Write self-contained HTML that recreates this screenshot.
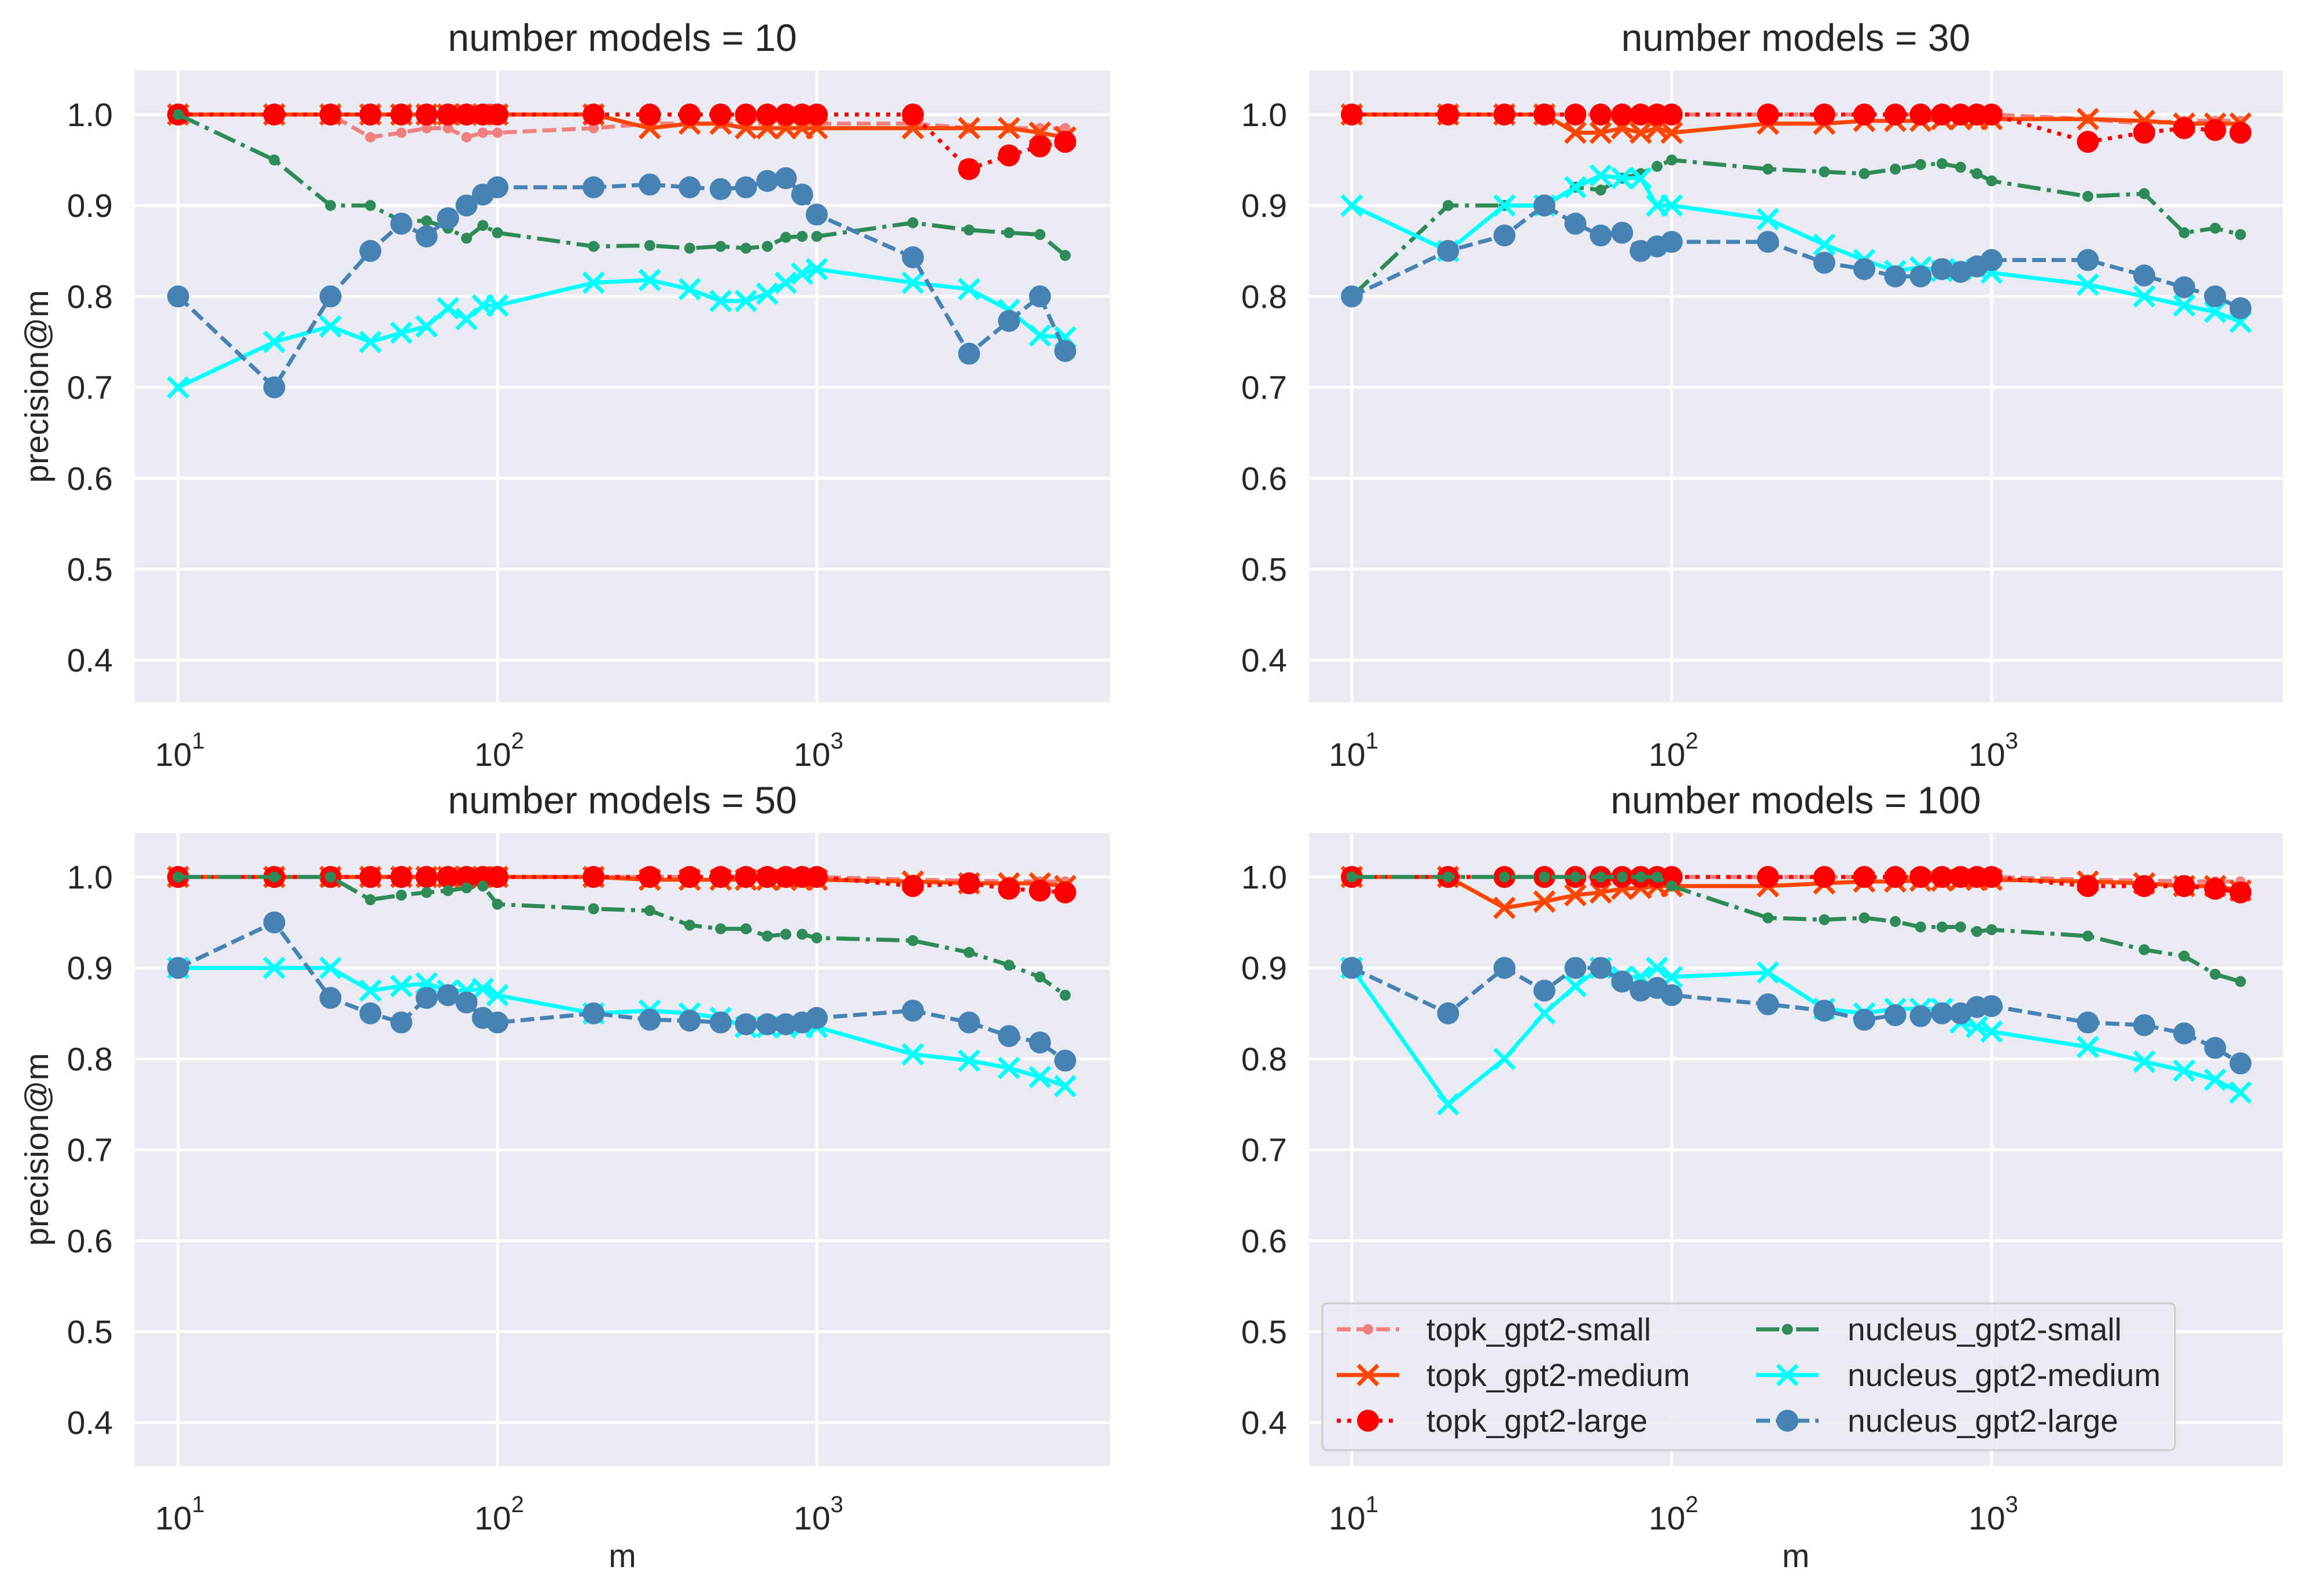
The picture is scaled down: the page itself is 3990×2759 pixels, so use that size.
<!DOCTYPE html>
<html><head><meta charset="utf-8">
<style>
html,body{margin:0;padding:0;background:#fff;}
svg{display:block;font-family:"Liberation Sans","DejaVu Sans",sans-serif;}
</style></head>
<body>
<svg id="fig" width="3990" height="2759" viewBox="0 0 3990 2759" xmlns="http://www.w3.org/2000/svg"></svg>
<script>
const mValues = [10,20,30,40,50,60,70,80,90,100,200,300,400,500,600,700,800,900,1000,2000,3000,4000,5000,6000];
const panelTitles = ["number models = 10","number models = 30","number models = 50","number models = 100"];
const yTicks = [0.4,0.5,0.6,0.7,0.8,0.9,1.0];
const yTickLabels = ["0.4","0.5","0.6","0.7","0.8","0.9","1.0"];
const xTicks = [10,100,1000];
const xTickExp = ["1","2","3"];
const seriesNames = ["topk_gpt2-small","topk_gpt2-medium","topk_gpt2-large","nucleus_gpt2-small","nucleus_gpt2-medium","nucleus_gpt2-large"];

// panel 1 (number models = 10)
const p1_topkSmall  = [1,1,1,0.975,0.98,0.985,0.985,0.975,0.98,0.98,0.985,0.99,0.99,0.99,0.99,0.99,0.99,0.99,0.99,0.99,0.985,0.985,0.985,0.985];
const p1_topkMedium = [1,1,1,1,1,1,1,1,1,1,1,0.985,0.99,0.99,0.985,0.985,0.985,0.985,0.985,0.985,0.985,0.985,0.98,0.975];
const p1_topkLarge  = [1,1,1,1,1,1,1,1,1,1,1,1,1,1,1,1,1,1,1,1,0.94,0.955,0.965,0.97];
const p1_nucSmall   = [1,0.95,0.9,0.9,0.883,0.883,0.875,0.864,0.878,0.87,0.855,0.856,0.853,0.855,0.853,0.855,0.865,0.866,0.866,0.881,0.873,0.87,0.868,0.845];
const p1_nucMedium  = [0.7,0.75,0.767,0.75,0.76,0.767,0.787,0.775,0.79,0.79,0.815,0.818,0.808,0.795,0.795,0.803,0.815,0.825,0.83,0.815,0.808,0.785,0.757,0.755];
const p1_nucLarge   = [0.8,0.7,0.8,0.85,0.88,0.866,0.886,0.9,0.912,0.92,0.92,0.923,0.92,0.918,0.92,0.927,0.93,0.912,0.89,0.843,0.737,0.773,0.8,0.74];
// panel 2 (number models = 30)
const p2_topkSmall  = [1,1,1,1,1,1,1,1,1,1,1,1,1,1,1,1,1,1,1,0.995,0.99,0.993,0.993,0.993];
const p2_topkMedium = [1,1,1,1,0.98,0.98,0.985,0.98,0.985,0.98,0.99,0.99,0.993,0.993,0.993,0.995,0.995,0.995,0.995,0.995,0.993,0.99,0.99,0.99];
const p2_topkLarge  = [1,1,1,1,1,1,1,1,1,1,1,1,1,1,1,1,1,1,1,0.97,0.98,0.985,0.983,0.98];
const p2_nucSmall   = [0.8,0.9,0.9,0.9,0.92,0.917,0.93,0.935,0.943,0.95,0.94,0.937,0.935,0.94,0.945,0.946,0.942,0.935,0.927,0.91,0.913,0.87,0.875,0.868];
const p2_nucMedium  = [0.9,0.85,0.9,0.9,0.92,0.933,0.93,0.93,0.9,0.9,0.885,0.857,0.84,0.828,0.832,0.828,0.83,0.83,0.826,0.813,0.8,0.79,0.783,0.772];
const p2_nucLarge   = [0.8,0.85,0.867,0.9,0.88,0.867,0.87,0.85,0.855,0.86,0.86,0.837,0.83,0.822,0.822,0.83,0.827,0.833,0.84,0.84,0.823,0.81,0.8,0.787];
// panel 3 (number models = 50)
const p3_topkSmall  = [1,1,1,1,1,1,1,1,1,1,1,1,1,1,1,1,1,1,1,0.997,0.996,0.995,0.995,0.995];
const p3_topkMedium = [1,1,1,1,1,1,1,1,1,1,1,0.997,0.997,0.997,0.997,0.997,0.997,0.997,0.997,0.995,0.993,0.993,0.993,0.99];
const p3_topkLarge  = [1,1,1,1,1,1,1,1,1,1,1,1,1,1,1,1,1,1,1,0.99,0.993,0.987,0.985,0.983];
const p3_nucSmall   = [1,1,1,0.975,0.98,0.983,0.985,0.988,0.99,0.97,0.965,0.963,0.947,0.943,0.943,0.935,0.937,0.937,0.933,0.93,0.917,0.903,0.89,0.87];
const p3_nucMedium  = [0.9,0.9,0.9,0.875,0.88,0.883,0.875,0.875,0.877,0.87,0.85,0.853,0.85,0.845,0.835,0.835,0.835,0.835,0.835,0.805,0.798,0.79,0.78,0.77];
const p3_nucLarge   = [0.9,0.95,0.867,0.85,0.84,0.867,0.87,0.862,0.845,0.84,0.85,0.843,0.842,0.84,0.838,0.838,0.838,0.84,0.845,0.853,0.84,0.825,0.818,0.798];
// panel 4 (number models = 100)
const p4_topkSmall  = [1,1,1,1,1,1,1,1,1,1,1,1,1,1,1,1,1,1,1,0.997,0.996,0.995,0.995,0.995];
const p4_topkMedium = [1,1,0.966,0.973,0.98,0.983,0.987,0.988,0.99,0.99,0.99,0.993,0.995,0.995,0.996,0.996,0.997,0.997,0.997,0.995,0.993,0.99,0.99,0.985];
const p4_topkLarge  = [1,1,1,1,1,1,1,1,1,1,1,1,1,1,1,1,1,1,1,0.99,0.99,0.99,0.987,0.983];
const p4_nucSmall   = [1,1,1,1,1,1,1,1,1,0.99,0.955,0.953,0.955,0.951,0.945,0.945,0.945,0.94,0.942,0.935,0.92,0.913,0.893,0.885];
const p4_nucMedium  = [0.9,0.75,0.8,0.85,0.88,0.9,0.89,0.89,0.9,0.89,0.895,0.855,0.85,0.855,0.855,0.855,0.84,0.835,0.83,0.813,0.797,0.787,0.777,0.763];
const p4_nucLarge   = [0.9,0.85,0.9,0.875,0.9,0.9,0.885,0.875,0.878,0.87,0.86,0.853,0.843,0.848,0.847,0.85,0.85,0.857,0.858,0.84,0.837,0.828,0.812,0.795];

const panelData = [
  [p1_topkSmall,p1_topkMedium,p1_topkLarge,p1_nucSmall,p1_nucMedium,p1_nucLarge],
  [p2_topkSmall,p2_topkMedium,p2_topkLarge,p2_nucSmall,p2_nucMedium,p2_nucLarge],
  [p3_topkSmall,p3_topkMedium,p3_topkLarge,p3_nucSmall,p3_nucMedium,p3_nucLarge],
  [p4_topkSmall,p4_topkMedium,p4_topkLarge,p4_nucSmall,p4_nucMedium,p4_nucLarge]
];

const styles = [
  {color:"#f08080", dash:"24,10", marker:"dot", r:9},
  {color:"#ff4500", dash:"", marker:"x", r:17},
  {color:"#ff0000", dash:"7,11", marker:"circle", r:19},
  {color:"#2e8b57", dash:"40,11,7,11", marker:"dot", r:9.5},
  {color:"#00ffff", dash:"", marker:"x", r:17},
  {color:"#4682b4", dash:"24,10", marker:"circle", r:19}
];
const LW = 7;

const NS = "http://www.w3.org/2000/svg";
const svg = document.getElementById("fig");
function mk(tag, attrs, parent){
  const e = document.createElementNS(NS, tag);
  for (const k in attrs) e.setAttribute(k, attrs[k]);
  (parent||svg).appendChild(e);
  return e;
}

const panels = [
  {left:233, right:1919, top:122, bottom:1214, x10:308, dec:552, y1:198},
  {left:2263, right:3946, top:122, bottom:1214, x10:2337, dec:553, y1:198},
  {left:233, right:1919, top:1440, bottom:2534, x10:308, dec:552, y1:1516},
  {left:2263, right:3946, top:1440, bottom:2534, x10:2337, dec:553, y1:1516}
];
const perUnit = 1572;

panels.forEach((P, pi) => {
  const xs = v => P.x10 + (Math.log10(v) - 1) * P.dec;
  const ysc = v => P.y1 + (1.0 - v) * perUnit;

  const g = mk("g", {});
  
  

  const bg = mk("rect", {x:P.left, y:P.top, width:P.right-P.left, height:P.bottom-P.top, fill:"#eaeaf2"}, g);
  
  

  yTicks.forEach((t, i) => {
    const y = ysc(t);
    const gl = mk("line", {x1:P.left, x2:P.right, y1:y, y2:y, stroke:"#ffffff", "stroke-width":5}, g);
    
    
    const tl = mk("text", {x:P.left-38, y:y+20, "text-anchor":"end", "font-size":57, fill:"#262626"}, g);
    tl.textContent = yTickLabels[i];
    
    
  });
  xTicks.forEach((t, i) => {
    const x = xs(t);
    const gl = mk("line", {x1:x, x2:x, y1:P.top, y2:P.bottom, stroke:"#ffffff", "stroke-width":5}, g);
    
    
    const tl = mk("text", {x:x+3, y:P.bottom+110, "text-anchor":"middle", "font-size":57, fill:"#262626"}, g);
    tl.textContent = "10";
    const sup = mk("tspan", {dy:-30, "font-size":40}, tl);
    sup.textContent = xTickExp[i];
    
    
  });

  const tt = mk("text", {x:(P.left+P.right)/2, y:P.top-34, "text-anchor":"middle", "font-size":66, fill:"#262626"}, g);
  tt.textContent = panelTitles[pi];
  
  

  if (pi % 2 === 0) {
    const yl = mk("text", {x:0, y:0, transform:`translate(${P.left-150},${(P.top+P.bottom)/2}) rotate(-90)`, "text-anchor":"middle", "font-size":57, fill:"#262626"}, g);
    yl.textContent = "precision@m";
    
    
  }
  if (pi >= 2) {
    const xl = mk("text", {x:(P.left+P.right)/2, y:P.bottom+175, "text-anchor":"middle", "font-size":57, fill:"#262626"}, g);
    xl.textContent = "m";
    
    
  }

  panelData[pi].forEach((vals, si) => {
    const st = styles[si];
    const sg = mk("g", {}, g);
    
    
    const pts = vals.map((v, k) => xs(mValues[k]).toFixed(1) + "," + ysc(v).toFixed(1)).join(" ");
    const pl = mk("polyline", {points:pts, fill:"none", stroke:st.color, "stroke-width":LW, "stroke-dasharray":st.dash, "stroke-linejoin":"round"}, sg);
    
    
    vals.forEach((v, k) => {
      const cx = xs(mValues[k]), cy = ysc(v);
      let m;
      if (st.marker === "x") {
        const r = st.r;
        m = mk("path", {d:`M${cx-r},${cy-r}L${cx+r},${cy+r}M${cx-r},${cy+r}L${cx+r},${cy-r}`, stroke:st.color, "stroke-width":LW, fill:"none"}, sg);
      } else {
        m = mk("circle", {cx:cx, cy:cy, r:st.r, fill:st.color}, sg);
      }
      
      
    });
  });
});

const lg = mk("g", {});


const lbox = mk("rect", {x:2286, y:2253, width:1474, height:254, rx:8, fill:"#eaeaf2", "fill-opacity":0.8, stroke:"#cccccc", "stroke-width":3}, lg);


const rowsY = [2298, 2377, 2456];
seriesNames.forEach((nm, si) => {
  const st = styles[si];
  const col = si < 3 ? 0 : 1;
  const row = si % 3;
  const hx = col === 0 ? 2311 : 3036;
  const tx = col === 0 ? 2466 : 3194;
  const y = rowsY[row];
  const eg = mk("g", {}, lg);
  
  
  mk("line", {x1:hx, x2:hx+108, y1:y, y2:y, stroke:st.color, "stroke-width":LW, "stroke-dasharray":st.dash}, eg);
  const cx = hx+54;
  if (st.marker === "x") {
    const r = st.r;
    mk("path", {d:`M${cx-r},${y-r}L${cx+r},${y+r}M${cx-r},${y+r}L${cx+r},${y-r}`, stroke:st.color, "stroke-width":LW}, eg);
  } else {
    mk("circle", {cx:cx, cy:y, r:st.r, fill:st.color}, eg);
  }
  const t = mk("text", {x:tx, y:y+19, "font-size":55, fill:"#262626"}, eg);
  t.textContent = nm;
});
</script>
</body></html>
